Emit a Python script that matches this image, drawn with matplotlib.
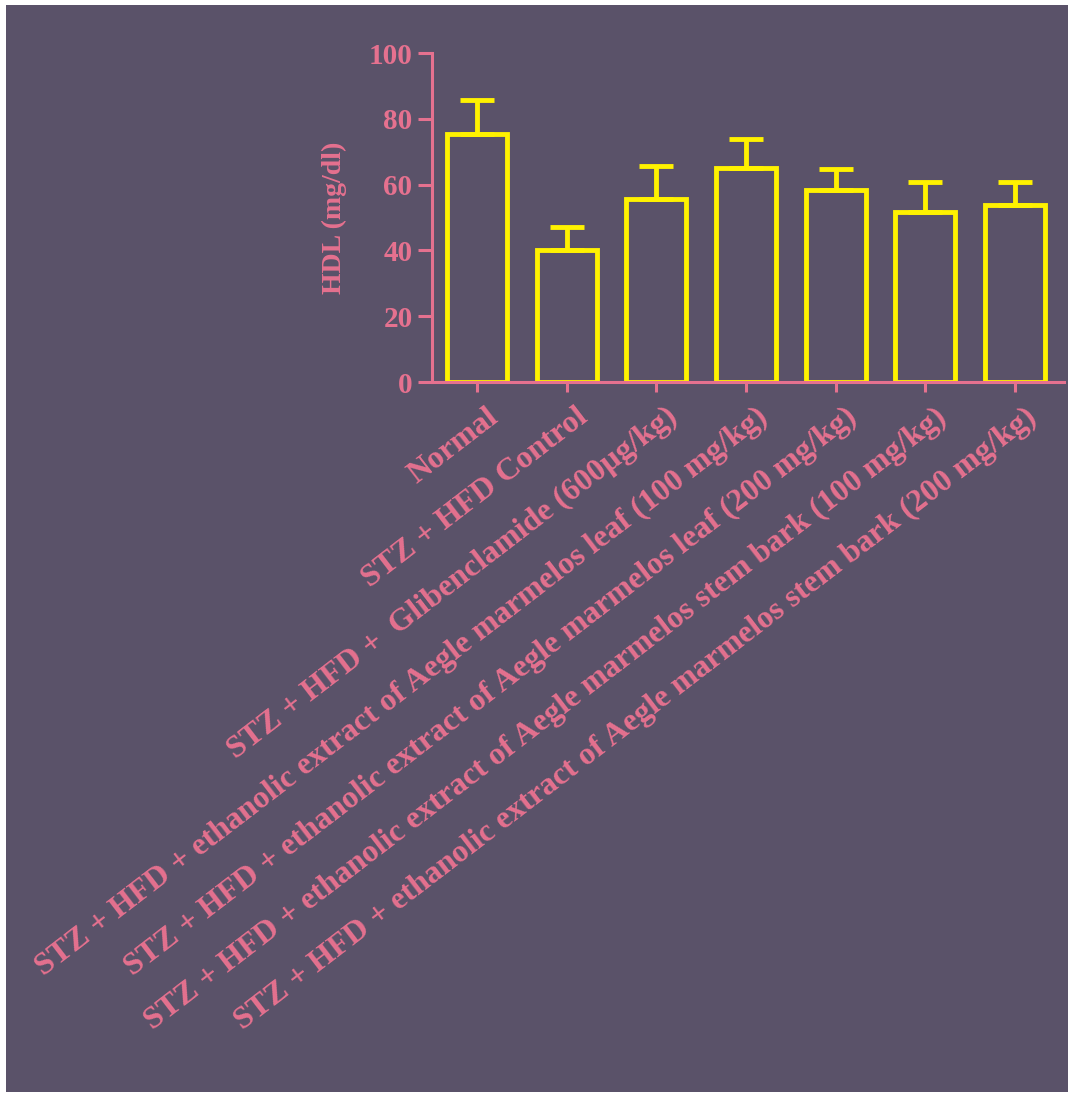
import matplotlib

matplotlib.use("Agg")
import matplotlib.pyplot as plt
from matplotlib.patches import Rectangle
from matplotlib.transforms import ScaledTranslation

plt.rcParams["font.family"] = ["Liberation Serif", "DejaVu Serif"]
plt.rcParams["font.weight"] = "bold"

# HDL per group, mean and SEM (upper bars only)
groups = [
    "Normal",
    "STZ + HFD Control",
    "STZ + HFD +  Glibenclamide (600\u00b5g/kg)",
    "STZ + HFD + ethanolic extract of Aegle marmelos leaf (100 mg/kg)",
    "STZ + HFD + ethanolic extract of Aegle marmelos leaf (200 mg/kg)",
    "STZ + HFD + ethanolic extract of Aegle marmelos stem bark (100 mg/kg)",
    "STZ + HFD + ethanolic extract of Aegle marmelos stem bark (200 mg/kg)",
]
hdl_mean = [75.5, 40.2, 55.6, 65.1, 58.3, 51.6, 53.8]
hdl_sem = [10.3, 6.9, 10.0, 8.9, 6.4, 9.1, 6.9]
y_ticks = [0, 20, 40, 60, 80, 100]

bg = "#5a5269"
pink = "#e5718f"
yellow = "#fff200"

fig = plt.figure(figsize=(10.7, 10.94), dpi=100, facecolor="white")
fig.patches.append(
    Rectangle((6 / 1070, 2 / 1094), 1062 / 1070, 1087 / 1094,
              transform=fig.transFigure, facecolor=bg, edgecolor="none", zorder=-10)
)

ax = fig.add_axes([0.4037, 0.6508, 0.5907, 0.3007])
ax.set_zorder(1)
ax.set_facecolor(bg)

x = list(range(len(groups)))
ax.bar(x, hdl_mean, width=0.67, facecolor="none", edgecolor=yellow,
       linewidth=3.5, zorder=1)
ax.errorbar(x, hdl_mean, yerr=[[0] * len(x), hdl_sem], fmt="none",
            ecolor=yellow, elinewidth=3.5, capsize=12, capthick=3.5, zorder=1)

ax.set_xlim(-0.502, 6.546)
ax.set_ylim(0, 100)
ax.set_yticks(y_ticks)
ax.set_xticks(x)
ax.set_xticklabels([])

# slanted group names, anchored just below and right of each tick
lab_tr = ax.get_xaxis_transform() + ScaledTranslation(0.18, -0.32, fig.dpi_scale_trans)
for xi, name in zip(x, groups):
    ax.text(xi, 0, name, transform=lab_tr, fontsize=23, color=pink,
            rotation=37.5, ha="right", va="center", rotation_mode="anchor",
            clip_on=False)

ax.tick_params(axis="x", length=7, width=2.2, color=pink)
ax.tick_params(axis="y", length=10, width=2.2, color=pink, labelcolor=pink,
               labelsize=21, pad=4)

for side in ["top", "right"]:
    ax.spines[side].set_visible(False)
for side in ["left", "bottom"]:
    ax.spines[side].set_color(pink)
    ax.spines[side].set_linewidth(2.2)

ax.set_ylabel("HDL (mg/dl)", fontsize=20, fontweight="bold", color=pink)
ax.yaxis.set_label_coords(-0.135, 0.5)

fig.savefig("out.png", dpi=100, facecolor=fig.get_facecolor())
